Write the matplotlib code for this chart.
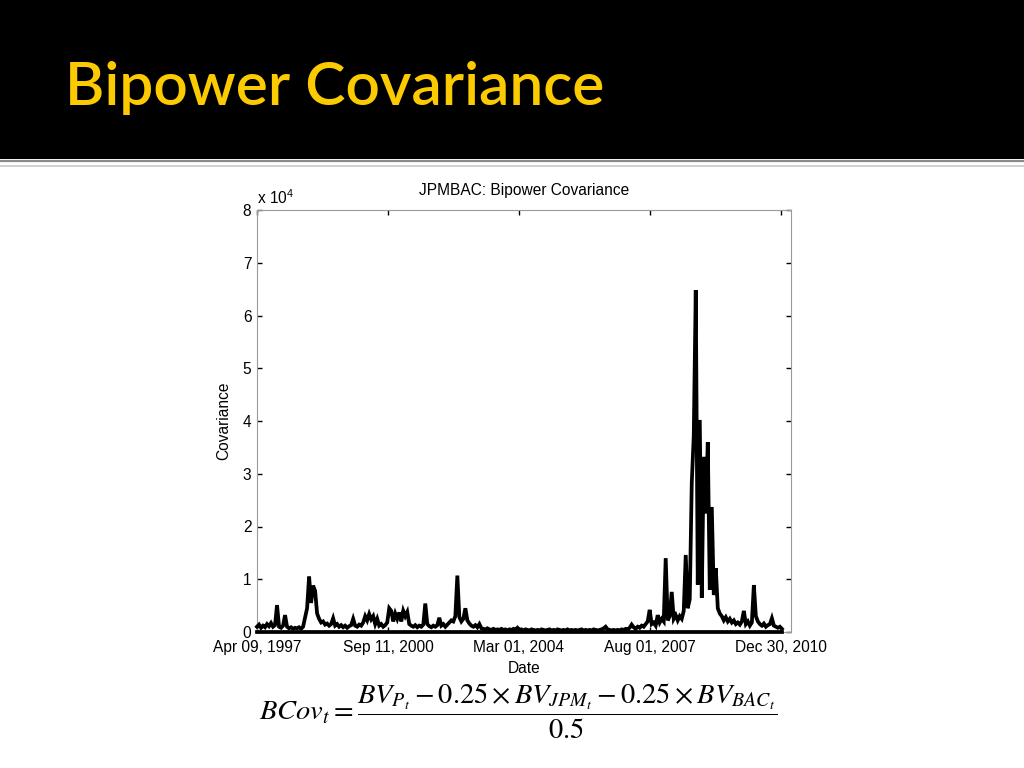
import matplotlib
matplotlib.use("Agg")
import matplotlib.pyplot as plt
from matplotlib.patches import Rectangle
from matplotlib.lines import Line2D
import numpy as np

plt.rcParams['font.family'] = ['Liberation Sans', 'DejaVu Sans']
plt.rcParams['mathtext.fontset'] = 'custom'
plt.rcParams['mathtext.rm'] = 'Liberation Sans'
plt.rcParams['mathtext.it'] = 'Liberation Sans:italic'

# ---------------- data (covariance, units of 1e4) ----------------
step_days = 13  # trading days between samples
cov_values = [
    0.10, 0.14, 0.08, 0.12, 0.09, 0.15, 0.11, 0.17, 0.10, 0.13,
    0.51, 0.10, 0.08, 0.12, 0.32, 0.10, 0.07, 0.09, 0.06, 0.08,
    0.07, 0.09, 0.06, 0.10, 0.28, 0.45, 1.05, 0.55, 0.88, 0.78,
    0.35, 0.25, 0.18, 0.20, 0.14, 0.16, 0.12, 0.15, 0.26, 0.12,
    0.15, 0.10, 0.13, 0.09, 0.12, 0.08, 0.11, 0.13, 0.25, 0.12,
    0.10, 0.14, 0.12, 0.18, 0.30, 0.22, 0.34, 0.24, 0.30, 0.15,
    0.25, 0.12, 0.15, 0.10, 0.13, 0.18, 0.45, 0.40, 0.20, 0.35,
    0.25, 0.37, 0.20, 0.40, 0.30, 0.38, 0.15, 0.12, 0.10, 0.13,
    0.09, 0.12, 0.10, 0.14, 0.54, 0.15, 0.11, 0.09, 0.12, 0.10,
    0.13, 0.27, 0.12, 0.15, 0.10, 0.14, 0.18, 0.22, 0.20, 0.30,
    1.07, 0.28, 0.20, 0.25, 0.45, 0.22, 0.16, 0.12, 0.10, 0.13,
    0.09, 0.15, 0.07, 0.06, 0.05, 0.07, 0.05, 0.04, 0.06, 0.04,
    0.05, 0.04, 0.06, 0.04, 0.05, 0.03, 0.05, 0.04, 0.06, 0.04,
    0.08, 0.04, 0.05, 0.03, 0.05, 0.04, 0.03, 0.05, 0.04, 0.03,
    0.04, 0.03, 0.05, 0.04, 0.03, 0.04, 0.05, 0.03, 0.04, 0.03,
    0.05, 0.04, 0.03, 0.04, 0.03, 0.05, 0.03, 0.04, 0.03, 0.04,
    0.03, 0.04, 0.05, 0.03, 0.04, 0.03, 0.04, 0.03, 0.05, 0.04,
    0.03, 0.04, 0.05, 0.07, 0.10, 0.05, 0.04, 0.03, 0.04, 0.03,
    0.04, 0.03, 0.05, 0.04, 0.06, 0.05, 0.08, 0.14, 0.09, 0.06,
    0.10, 0.08, 0.12, 0.10, 0.15, 0.20, 0.42, 0.15, 0.18, 0.12,
    0.32, 0.18, 0.25, 0.20, 1.40, 0.22, 0.30, 0.76, 0.25, 0.32,
    0.22, 0.30, 0.25, 0.40, 1.46, 0.45, 0.62, 2.82, 3.72, 6.48,
    0.90, 4.02, 0.65, 3.32, 2.25, 3.60, 0.80, 2.37, 0.70, 1.21,
    0.45, 0.35, 0.30, 0.22, 0.28, 0.20, 0.25, 0.18, 0.22, 0.15,
    0.18, 0.14, 0.20, 0.40, 0.15, 0.20, 0.12, 0.18, 0.89, 0.30,
    0.20, 0.15, 0.12, 0.16, 0.10, 0.13, 0.15, 0.26, 0.12, 0.10,
    0.08, 0.10, 0.06,
]
tick_index = [0, 850, 1700, 2550, 3400]
tick_labels = ["Apr 09, 1997", "Sep 11, 2000", "Mar 01, 2004", "Aug 01, 2007", "Dec 30, 2010"]
y_ticks = [0, 1, 2, 3, 4, 5, 6, 7, 8]
x_max = 3465

slide_title = "Bipower Covariance"
chart_title = "JPMBAC: Bipower Covariance"

x = np.arange(len(cov_values)) * step_days
y = np.array(cov_values)

# ---------------- figure ----------------
fig = plt.figure(figsize=(10.24, 7.68), dpi=100)
fig.patch.set_facecolor('white')

# slide banner
fig.patches.append(Rectangle((0, 1 - 159 / 768), 1, 159 / 768, transform=fig.transFigure,
                             facecolor='black', edgecolor='none', zorder=0))
fig.lines.append(Line2D([0, 1], [1 - 161 / 768] * 2, transform=fig.transFigure,
                        color='#8a8a8a', lw=1.6))
fig.lines.append(Line2D([0, 1], [1 - 166 / 768] * 2, transform=fig.transFigure,
                        color='#c8c8c8', lw=1.2))
fig.text(65 / 1024, 1 - 105 / 768, slide_title, color='#FCCA00', fontsize=43.5,
         family=['Lato', 'DejaVu Sans'], fontweight='semibold', ha='left', va='baseline')

ax = fig.add_axes([257 / 1024, 1 - 632 / 768, (791 - 257) / 1024, (632 - 210) / 768])
ax.plot(x, y, color='black', lw=2.7, solid_joinstyle='miter', clip_on=False, zorder=3)
ax.plot([x[0], x[-1]], [0, 0], color='black', lw=2.7, clip_on=False, zorder=3)

ax.set_xlim(0, x_max)
ax.set_ylim(0, 8)
ax.set_xticks(tick_index)
ax.set_xticklabels(tick_labels)
ax.set_yticks(y_ticks)
ax.tick_params(direction='in', length=3.5, width=1, color='black', labelsize=11.2,
               top=True, right=True, pad=4)
ax.tick_params(axis='x', pad=6)
for s in ax.spines.values():
    s.set_color('#9a9a9a')
    s.set_linewidth(0.8)

ax.set_title(chart_title, fontsize=11.2, pad=11)
ax.set_xlabel("Date", fontsize=11.2, labelpad=4)
ax.set_ylabel("Covariance", fontsize=11.2, labelpad=8)
ax.text(0.0, 1.006, r"x 10$^{4}$", transform=ax.transAxes, ha='left', va='bottom', fontsize=11.2)

# formula
fig.text(518 / 1024, 1 - 711 / 768,
         r"$BCov_t=\dfrac{BV_{P_t}-0.25\times BV_{JPM_t}-0.25\times BV_{BAC_t}}{0.5}$",
         math_fontfamily='stix', fontsize=20.5, ha='center', va='center')

fig.savefig("out.png", dpi=100, facecolor='white')
